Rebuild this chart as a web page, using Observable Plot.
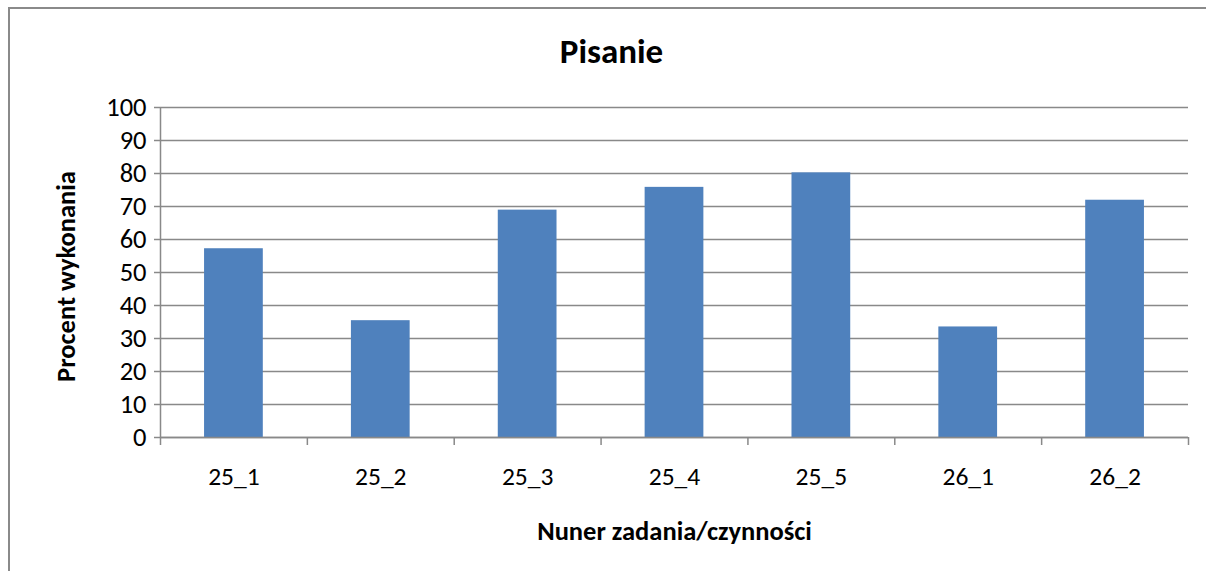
<!DOCTYPE html>
<html><head><meta charset="utf-8">
<script src="https://cdn.jsdelivr.net/npm/d3@7"></script>
<script src="https://cdn.jsdelivr.net/npm/@observablehq/plot@0.6"></script>
<style>
html,body{margin:0;padding:0;background:#fff;overflow:hidden}
#wrap{position:relative;width:1206px;height:571px;overflow:hidden}
#border{position:absolute;left:8px;top:7px;width:1300px;height:700px;border-left:2px solid #8a8a8a;border-top:2px solid #8a8a8a;pointer-events:none}
#chart{position:absolute;left:0;top:0}
</style></head><body><div id="wrap"><div id="chart"></div><div id="border"></div></div>
<script>
const categories = ["25_1", "25_2", "25_3", "25_4", "25_5", "26_1", "26_2"];
const values = [57.2, 35.4, 68.9, 75.8, 80.2, 33.5, 71.9];
const yTicks = [0, 10, 20, 30, 40, 50, 60, 70, 80, 90, 100];
const title = "Pisanie";
const yLabel = "Procent wykonania";
const xLabel = "Nuner zadania/czynności";

const W = 1206, H = 571, ML = 160, MR = 18, MT = 107, MB = 134;
const n = categories.length;
const bw = (W - ML - MR) / n;
const inset = bw * 0.3;
const data = categories.map((c, i) => ({i, category: c, value: values[i]}));
const boundaries = d3.range(n + 1);
const centers = d3.range(n).map(i => i + 0.5);
const font = "Carlito, Lato, sans-serif";
const grey = "#898989";

const plot = Plot.plot({
  width: W, height: H,
  marginLeft: ML, marginRight: MR, marginTop: MT, marginBottom: MB,
  style: {fontFamily: font, background: "transparent", color: "black", overflow: "visible"},
  x: {type: "linear", domain: [0, n], axis: null},
  y: {domain: [0, 100], axis: null},
  marks: [
    Plot.gridY(yTicks, {stroke: grey, strokeOpacity: 1, strokeWidth: 1.5}),
    Plot.rectY(data, {x1: "i", x2: d => d.i + 1, y: "value", fill: "#4f81bd", insetLeft: inset, insetRight: inset}),
    Plot.ruleX([0], {stroke: grey, strokeWidth: 1.5}),
    Plot.ruleY([0], {stroke: grey, strokeWidth: 1.5}),
    Plot.axisY(yTicks, {tickSize: 6, tickPadding: 8, fontSize: 26.5, stroke: grey, strokeWidth: 1.5, fill: "black", label: null}),
    Plot.axisX(boundaries, {tickSize: 8, tickFormat: () => "", stroke: grey, strokeWidth: 1.5, label: null}),
    Plot.axisX(centers, {tickSize: 0, tickPadding: 29, fontSize: 25.5, fill: "black", tickFormat: d => categories[Math.floor(d)], label: null}),
    Plot.text([title], {frameAnchor: "top", lineAnchor: "middle", dx: -63, dy: -56, fontSize: 35, fontWeight: "bold", fill: "black"}),
    Plot.text([yLabel], {frameAnchor: "left", textAnchor: "middle", lineAnchor: "middle", rotate: -90, dx: -94, dy: 4, fontSize: 26.5, fontWeight: "bold", fill: "black"}),
    Plot.text([xLabel], {frameAnchor: "bottom", lineAnchor: "middle", dy: 94, fontSize: 26.5, fontWeight: "bold", fill: "black"})
  ]
});
document.getElementById("chart").appendChild(plot);
</script>
</body></html>
